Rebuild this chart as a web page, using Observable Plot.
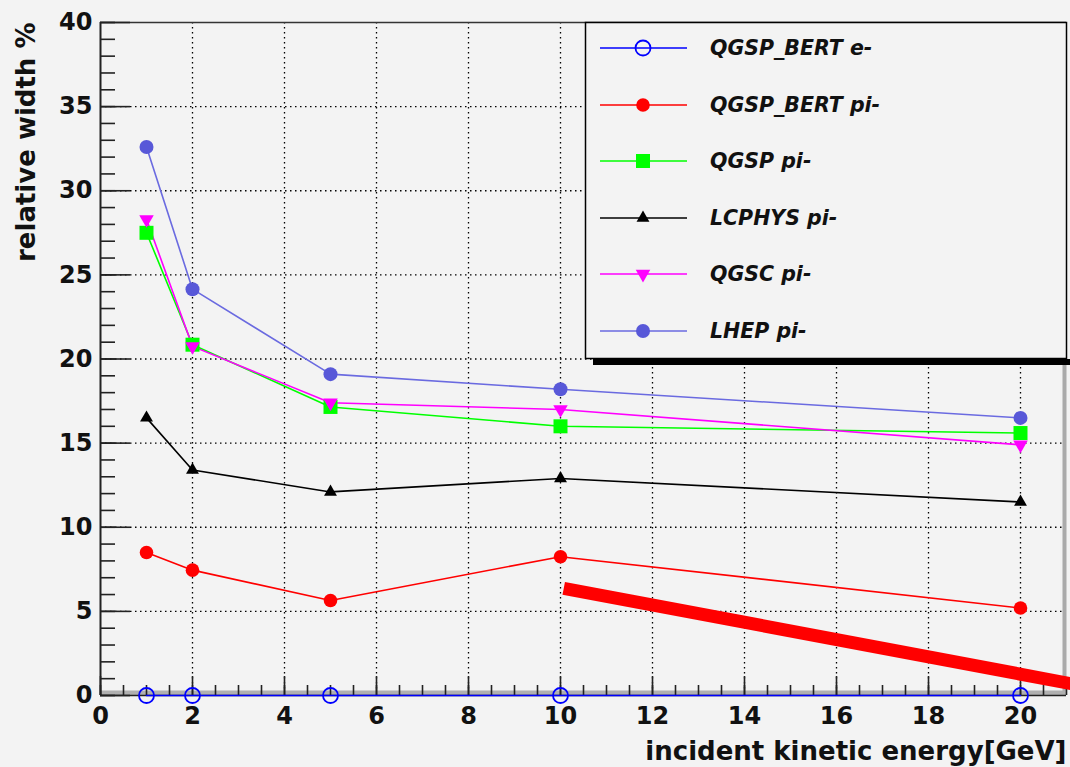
<!DOCTYPE html>
<html><head><meta charset="utf-8">
<script src="https://cdn.jsdelivr.net/npm/d3@7"></script>
<script src="https://cdn.jsdelivr.net/npm/@observablehq/plot@0.6"></script>
<style>
html,body{margin:0;padding:0;background:#f3f3f3;width:1070px;height:767px;overflow:hidden;}
#wrap{position:relative;width:1070px;height:767px;}
#wrap svg{display:block;}
#legend{position:absolute;left:0;top:0;pointer-events:none;}
</style></head><body><div id="wrap"></div>
<script>
// ---- data ----
const energies = [1, 2, 5, 10, 20];
const seriesNames = ["QGSP_BERT e-", "QGSP_BERT pi-", "QGSP pi-", "LCPHYS pi-", "QGSC pi-", "LHEP pi-"];
const qgspBertE  = [0, 0, 0, 0, 0];
const qgspBertPi = [8.5, 7.45, 5.65, 8.25, 5.2];
const qgspPi     = [27.5, 20.85, 17.15, 16.0, 15.6];
const lcphysPi   = [16.5, 13.4, 12.1, 12.9, 11.5];
const qgscPi     = [28.3, 20.75, 17.4, 17.0, 14.9];
const lhepPi     = [32.6, 24.15, 19.1, 18.2, 16.5];
const seriesValues = [qgspBertE, qgspBertPi, qgspPi, lcphysPi, qgscPi, lhepPi];

const xMajor = [0, 2, 4, 6, 8, 10, 12, 14, 16, 18, 20];
const xMinor = d3.range(0, 21.01, 0.5);
const yMajor = [0, 5, 10, 15, 20, 25, 30, 35, 40];
const yMinor = d3.range(0, 40.01, 1);
const xGrid = [2, 4, 6, 8, 10, 12, 14, 16, 18, 20];
const yGrid = [5, 10, 15, 20, 25, 30, 35];

// hand-drawn red annotation stroke (data units)
const annotX = [10.07, 21.2];
const annotY = [6.37, 0.65];

const xTitle = "incident kinetic energy[GeV]";
const yTitle = "relative width %";

// ---- styles ----
const lineColors = ["#0000ff", "#ff0000", "#00ff00", "#000000", "#ff00ff", "#6a6ae0"];
const markerStyles = [
  {symbol: "circle",   fill: "none",    stroke: "#0000ff", r: 7.5, rotate: 0},
  {symbol: "circle",   fill: "#ff0000", stroke: "none",    r: 6.8, rotate: 0},
  {symbol: "square",   fill: "#00ff00", stroke: "none",    r: 7.9, rotate: 0},
  {symbol: "triangle", fill: "#000000", stroke: "none",    r: 4.8, rotate: 0},
  {symbol: "triangle", fill: "#ff00ff", stroke: "none",    r: 5.4, rotate: 180},
  {symbol: "circle",   fill: "#5858d8", stroke: "none",    r: 7.0, rotate: 0}
];

const rows = seriesNames.flatMap((name, i) =>
  energies.map((e, j) => ({series: name, energy: e, width: seriesValues[i][j], idx: i})));

const tickStyle = {stroke: "#222", strokeWidth: 1.6, text: null, label: null};
const gridStyle = {stroke: "#000", strokeOpacity: 1, strokeWidth: 1.3, strokeDasharray: "1.5,3.5"};

const marks = [
  Plot.gridX({ticks: xGrid, ...gridStyle}),
  Plot.gridY({ticks: yGrid, ...gridStyle}),
  Plot.ruleY([40], {stroke: "#333", strokeWidth: 1.5}),
  Plot.ruleX([21], {stroke: "#aaa", strokeWidth: 4, dx: -2}),
  Plot.ruleY([0], {stroke: "#b0b0b0", strokeWidth: 5, dy: -2.5}),
  Plot.ruleX([0], {stroke: "#222", strokeWidth: 2}),
  Plot.ruleY([0], {stroke: "#222", strokeWidth: 1.6}),
  Plot.axisX({ticks: xMajor, tickSize: -19, ...tickStyle}),
  Plot.axisX({ticks: xMinor, tickSize: -10, ...tickStyle}),
  Plot.axisY({ticks: yMajor, tickSize: -30, ...tickStyle}),
  Plot.axisY({ticks: yMinor, tickSize: -15, ...tickStyle}),
  Plot.axisX({ticks: xMajor, tickSize: 0, tickPadding: 11, fontSize: 24, fontWeight: "bold", fill: "#111", tickFormat: d => String(d), label: null}),
  Plot.axisY({ticks: yMajor, tickSize: 0, tickPadding: 8, fontSize: 24, fontWeight: "bold", fill: "#111", tickFormat: d => String(d), label: null}),
  Plot.line(rows, {x: "energy", y: "width", z: "series", stroke: d => lineColors[d.idx], strokeWidth: 1.6})
];
seriesNames.forEach((name, i) => {
  const m = markerStyles[i];
  marks.push(Plot.dot(rows.filter(d => d.series === name), {
    x: "energy", y: "width", symbol: m.symbol, r: m.r, fill: m.fill,
    stroke: m.stroke, strokeWidth: m.stroke === "none" ? 0 : 1.8, rotate: m.rotate
  }));
});
marks.push(Plot.line(annotX.map((x, i) => ({x, y: annotY[i]})), {x: "x", y: "y", stroke: "#ff0000", strokeWidth: 13, strokeLinecap: "butt"}));
marks.push(Plot.text([xTitle], {frameAnchor: "bottom-right", dy: 56, textAnchor: "end", lineAnchor: "middle", fontSize: 26, fontWeight: "bold", fill: "#111"}));
marks.push(Plot.text([yTitle], {frameAnchor: "top-left", dx: -74, textAnchor: "end", lineAnchor: "middle", rotate: -90, fontSize: 26, fontWeight: "bold", fill: "#111"}));

const chart = Plot.plot({
  width: 1070, height: 767,
  marginTop: 22, marginRight: 4, marginBottom: 72, marginLeft: 100,
  x: {domain: [0, 21], label: null},
  y: {domain: [0, 40], label: null},
  style: {background: "transparent", fontFamily: "'DejaVu Sans', sans-serif", overflow: "visible"},
  marks
});
document.getElementById("wrap").appendChild(chart);

// ---- legend (drawn as an overlay, like the ROOT TLegend) ----
const lg = d3.select("#wrap").append("svg").attr("id", "legend")
  .attr("width", 1070).attr("height", 767);
lg.append("rect").attr("x", 593).attr("y", 359).attr("width", 480).attr("height", 6).attr("fill", "#000");
lg.append("rect").attr("x", 585.5).attr("y", 22.5).attr("width", 481).attr("height", 336)
  .attr("fill", "#f3f3f3").attr("stroke", "#000").attr("stroke-width", 1.5);
const rowY = [48, 105, 161, 218, 274, 331];
const symMap = {circle: d3.symbolCircle, square: d3.symbolSquare, triangle: d3.symbolTriangle};
seriesNames.forEach((name, i) => {
  const y = rowY[i], m = markerStyles[i];
  lg.append("line").attr("x1", 600).attr("x2", 687).attr("y1", y).attr("y2", y)
    .attr("stroke", lineColors[i]).attr("stroke-width", 1.6);
  lg.append("path").attr("d", d3.symbol(symMap[m.symbol], Math.PI * m.r * m.r)())
    .attr("transform", `translate(643,${y}) rotate(${m.rotate})`)
    .attr("fill", m.fill).attr("stroke", m.stroke).attr("stroke-width", m.stroke === "none" ? 0 : 1.8);
  lg.append("text").attr("x", 710).attr("y", y).attr("dy", "0.36em")
    .attr("font-family", "'DejaVu Sans', sans-serif").attr("font-weight", "bold")
    .attr("font-style", "italic").attr("font-size", 20.5).attr("fill", "#111").text(name);
});
</script></body></html>
